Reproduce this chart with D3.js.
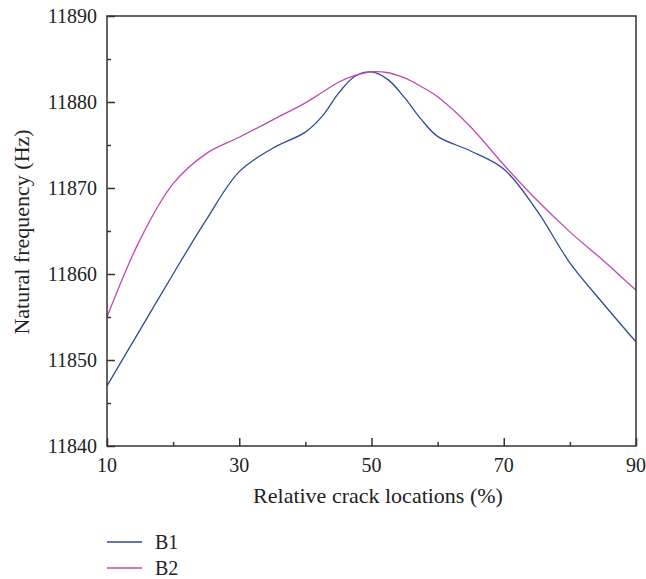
<!DOCTYPE html>
<html>
<head>
<meta charset="utf-8">
<script src="https://cdn.jsdelivr.net/npm/d3@7/dist/d3.min.js"></script>
<style>
  body { margin: 0; background: #fff; }
  text { font-family: "Liberation Serif", "DejaVu Serif", serif; fill: #222; }
</style>
</head>
<body>
<svg id="chart" width="646" height="579"></svg>
<script>
// Data
const locations = [10, 15, 20, 25, 30, 35, 40, 42.5, 45, 47.5, 50, 52.5, 55, 57.5, 60, 65, 70, 75, 80, 85, 90];
const b1 = [11847.0, 11853.5, 11860.0, 11866.3, 11871.9, 11874.6, 11876.5, 11878.3, 11881.0, 11883.0, 11883.5, 11882.6, 11880.5, 11878.0, 11876.0, 11874.3, 11872.2, 11867.4, 11861.3, 11856.6, 11852.1];
const b2 = [11855.0, 11864.0, 11870.5, 11874.0, 11875.9, 11877.9, 11879.9, 11881.1, 11882.3, 11883.1, 11883.5, 11883.4, 11882.8, 11881.8, 11880.6, 11877.1, 11872.7, 11868.6, 11864.9, 11861.6, 11858.1];
const seriesNames = ["B1", "B2"];
const xMajorTicks = [10, 30, 50, 70, 90];
const xMinorTicks = [20, 40, 60, 80];
const yMajorTicks = [11840, 11850, 11860, 11870, 11880, 11890];
const yMinorTicks = [11845, 11855, 11865, 11875, 11885];

const colors = ["#2e4a9e", "#c04aae"];
const svg = d3.select("#chart");
const L = 107, R = 636, T = 16, B = 446;

const x = d3.scaleLinear().domain([10, 90]).range([L, R]);
const y = d3.scaleLinear().domain([11840, 11890]).range([B, T]);

// lines
const series = [b1, b2];
const line = d3.line().x(d => x(d[0])).y(d => y(d[1])).curve(d3.curveCatmullRom.alpha(0.5));
series.forEach((s, i) => {
  svg.append("path")
    .datum(locations.map((l, j) => [l, s[j]]))
    .attr("d", line)
    .attr("fill", "none")
    .attr("stroke", colors[i])
    .attr("stroke-width", 1.3);
});

// frame
svg.append("rect").attr("x", L).attr("y", T).attr("width", R - L).attr("height", B - T)
  .attr("fill", "none").attr("stroke", "#333").attr("stroke-width", 1.5);

// axes with inward ticks
const gx = svg.append("g").attr("transform", `translate(0,${B})`);
gx.call(d3.axisTop(x).tickValues(xMajorTicks).tickSize(8).tickFormat(""));
gx.append("g").call(d3.axisTop(x).tickValues(xMinorTicks).tickSize(4).tickFormat(""));
gx.selectAll(".domain").remove();
gx.selectAll("line").attr("stroke", "#333").attr("stroke-width", 1.5);

const gy = svg.append("g").attr("transform", `translate(${L},0)`);
gy.call(d3.axisRight(y).tickValues(yMajorTicks).tickSize(8).tickFormat(""));
gy.append("g").call(d3.axisRight(y).tickValues(yMinorTicks).tickSize(4).tickFormat(""));
gy.selectAll(".domain").remove();
gy.selectAll("line").attr("stroke", "#333").attr("stroke-width", 1.5);

// tick labels
svg.append("g").selectAll("text").data(xMajorTicks).join("text")
  .attr("x", d => x(d)).attr("y", 472)
  .attr("text-anchor", "middle").attr("font-size", 20)
  .text(d => d);
svg.append("g").selectAll("text").data(yMajorTicks).join("text")
  .attr("x", 97).attr("y", d => y(d)).attr("dy", "0.35em")
  .attr("text-anchor", "end").attr("font-size", 20)
  .text(d => d);

// axis titles
svg.append("text").attr("x", 378).attr("y", 503)
  .attr("text-anchor", "middle").attr("font-size", 22)
  .text("Relative crack locations (%)");
svg.append("text")
  .attr("transform", `translate(29,232) rotate(-90)`)
  .attr("text-anchor", "middle").attr("font-size", 22)
  .text("Natural frequency (Hz)");

// legend
const lg = svg.append("g");
seriesNames.forEach((n, i) => {
  const yy = 542 + i * 26;
  lg.append("line").attr("x1", 107).attr("x2", 142).attr("y1", yy).attr("y2", yy)
    .attr("stroke", colors[i]).attr("stroke-width", 1.3);
  lg.append("text").attr("x", 155).attr("y", yy).attr("dy", "0.33em")
    .attr("font-size", 20).text(n);
});
</script>
</body>
</html>
